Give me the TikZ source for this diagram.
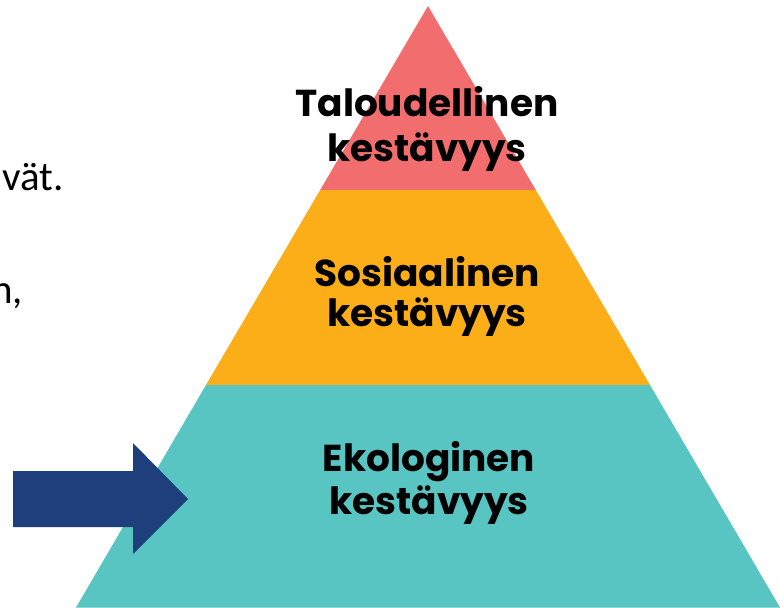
\documentclass[tikz,border=0pt]{standalone}
\usepackage{fontspec}
\newfontfamily\popb{Poppins}[UprightFont=* Bold]
\newfontfamily\carl{Carlito}
\definecolor{pyrred}{HTML}{F26E6E}
\definecolor{pyrorange}{HTML}{FBAE17}
\definecolor{pyrteal}{HTML}{58C5C2}
\definecolor{arrowblue}{HTML}{1F3F7C}
\begin{document}
\begin{tikzpicture}[x=1pt,y=-1pt,
  lbl/.style={anchor=base, inner sep=0pt, font=\popb\fontsize{37.5}{44}\selectfont, text=black},
  side/.style={anchor=base east, inner sep=0pt, font=\carl\fontsize{41}{48}\selectfont, text=black}]
\useasboundingbox (0,0) rectangle (780,608);
\clip (0,0) rectangle (780,608);
% pyramid layers
\coordinate (apex) at (428,6);
\fill[pyrred] (apex) -- (535.8,190) -- (320.2,190) -- cycle;
\fill[pyrorange] (320.2,190) -- (535.8,190) -- (650,385) -- (206,385) -- cycle;
\fill[pyrteal] (206,385) -- (650,385) -- (780,607.5) -- (76,607.5) -- cycle;
% labels
\node[lbl] (t1) at (427,116.5) {Taloudellinen};
\node[lbl] (t2) at (427,161) {kestävyys};
\node[lbl] (s1) at (427,286) {Sosiaalinen};
\node[lbl] (s2) at (427,326) {kestävyys};
\node[lbl] (e1) at (429,471.5) {Ekologinen};
\node[lbl] (e2) at (429,514) {kestävyys};
% cut-off side text
\node[side] (v1) at (64,190.5) {vät.};
\node[side] (v2) at (23,303) {n,};
% arrow
\fill[arrowblue] (13,471) -- (133,471) -- (133,443) -- (188,499) -- (133,554) -- (133,527) -- (13,527) -- cycle;
\end{tikzpicture}
\end{document}
